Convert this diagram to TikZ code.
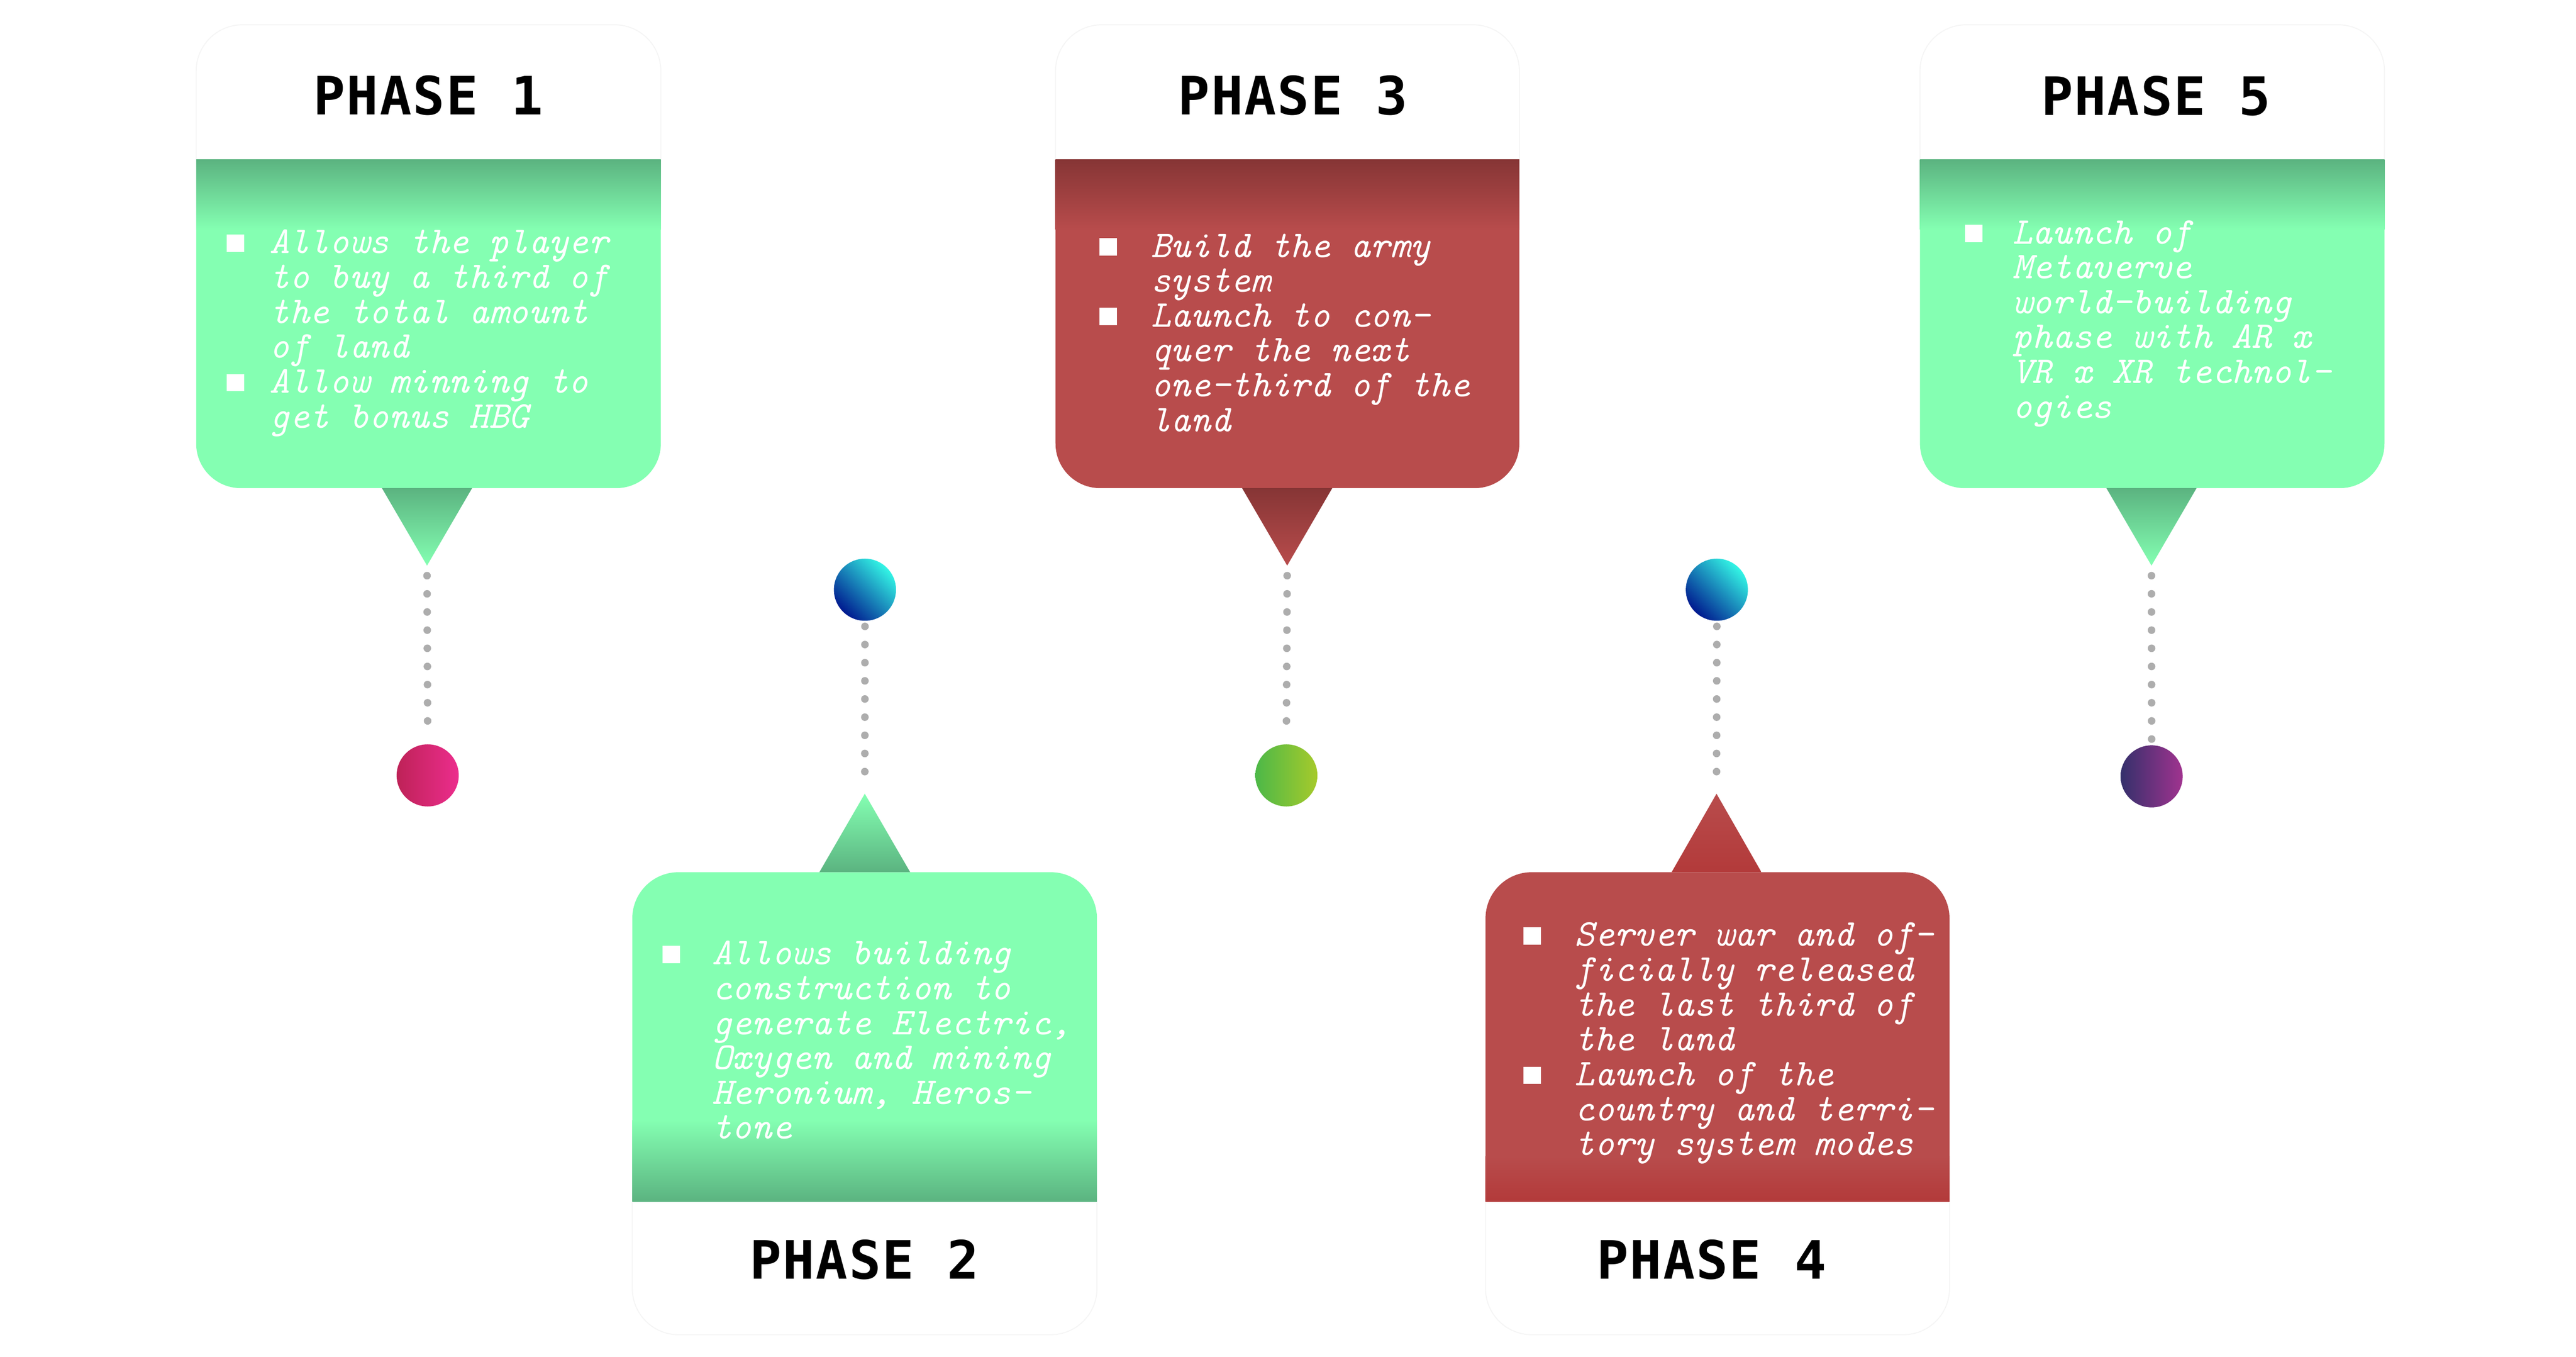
\documentclass[tikz,border=0pt]{standalone}
\usepackage{fontspec}
\newfontfamily\bodyfont{lmmono10-italic.otf}
\newfontfamily\titlefont{DejaVu Sans Mono}[LetterSpace=2.6]
\definecolor{mint}{HTML}{84FFB2}
\definecolor{mintdark}{HTML}{5BB380}
\definecolor{redc}{HTML}{B84C4C}
\definecolor{reddark}{HTML}{863535}
\definecolor{redlow}{HTML}{B33A3A}
\definecolor{dotgray}{HTML}{ADADAD}
\definecolor{pinkL}{HTML}{BE2257}
\definecolor{pinkR}{HTML}{EC2D8D}
\definecolor{cyanT}{HTML}{33F5E5}
\definecolor{blueM}{HTML}{1A6DB8}
\definecolor{navyB}{HTML}{001A8F}
\definecolor{grnL}{HTML}{4CB848}
\definecolor{grnR}{HTML}{A6CA2B}
\definecolor{purL}{HTML}{34306B}
\definecolor{purR}{HTML}{A0338F}
\newcommand\sqb[1]{\llap{\rule[1pt]{10.5pt}{10.5pt}\hspace{#1pt}}}
% top card: L R main dark
\newcommand\topcard[4]{%
  \path[hdr] (#1,-96.5) -- (#1,-43) arc[start angle=180,end angle=90,radius=28] -- ({#2-28},-15) arc[start angle=90,end angle=0,radius=28] -- (#2,-96.5);
  \fill[#3] (#1,-96.5) -- (#2,-96.5) -- (#2,-268.5) arc[start angle=0,end angle=-90,radius=27] -- ({#1+27},-295.5) arc[start angle=270,end angle=180,radius=27] -- cycle;
  \shade[top color=#4, bottom color=#3] (#1,-96.5) rectangle (#2,-139);
}
% bottom card: L R main dark striptop
\newcommand\botcard[5]{%
  \path[hdr] (#1,-727.5) -- (#1,-780) arc[start angle=180,end angle=270,radius=28] -- ({#2-28},-808) arc[start angle=270,end angle=360,radius=28] -- (#2,-727.5);
  \fill[#3] (#1,-727.5) -- (#1,-556) arc[start angle=180,end angle=90,radius=28] -- ({#2-28},-528) arc[start angle=90,end angle=0,radius=28] -- (#2,-727.5) -- cycle;
  \shade[top color=#3, bottom color=#4] (#1,-#5) rectangle (#2,-727.5);
}
\begin{document}
\begin{tikzpicture}[x=1pt,y=1pt,
  hdr/.style={fill=white, draw=black!4, line width=0.6pt},
  body/.style={text=white, inner sep=0pt, align=left, anchor=base west, font={\bodyfont\fontsize{23}{21.1}\selectfont}},
  ttl/.style={inner sep=0pt, anchor=base, text=black, font={\titlefont\bfseries\fontsize{32}{32}\selectfont}},
  dotline/.style={draw=dotgray, line width=4.6pt, line cap=round, dash pattern=on 0pt off 10.99pt},
  circ/.style={circle, minimum size=37.6pt, inner sep=0pt}
]
\fill[white] (0,0) rectangle (1560,-821.2);
\useasboundingbox (0,0) rectangle (1560,-821.2);

% cards
\topcard{118.8}{400.2}{mint}{mintdark}
\topcard{639.2}{920.1}{redc}{reddark}
\topcard{1162.7}{1444}{mint}{mintdark}
\botcard{382.9}{664.3}{mint}{mintdark}{678}
\botcard{899.6}{1180.6}{redc}{redlow}{700}

% pointer triangles
\coordinate (tip1) at (258.6,-342.4);
\coordinate (tip3) at (779.5,-342.4);
\coordinate (tip5) at (1302.9,-342.4);
\coordinate (tip2) at (523.7,-480.5);
\coordinate (tip4) at (1039.5,-480.5);
\shade[top color=mintdark, middle color=mint, bottom color=mint] (231.3,-295.5) -- (285.9,-295.5) -- (tip1) -- cycle;
\shade[top color=reddark, middle color=redc, bottom color=redc] (752.2,-295.5) -- (806.8,-295.5) -- (tip3) -- cycle;
\shade[top color=mintdark, middle color=mint, bottom color=mint] (1275.6,-295.5) -- (1330.2,-295.5) -- (tip5) -- cycle;
\shade[top color=mint, middle color=mint, bottom color=mintdark] (496.2,-528) -- (551.2,-528) -- (tip2) -- cycle;
\shade[top color=redc, middle color=redc, bottom color=redlow] (1012.3,-528) -- (1066.7,-528) -- (tip4) -- cycle;

% titles
\node[ttl] (h1) at (259.4,-69.5) {PHASE 1};
\node[ttl] (h3) at (783,-69.4) {PHASE 3};
\node[ttl] (h5) at (1305.7,-69.7) {PHASE 5};
\node[ttl] (h2) at (523.5,-774.2) {PHASE 2};
\node[ttl] (h4) at (1036.5,-774.2) {PHASE 4};

% texts (anchor = baseline of the last line)
\node[body] (t1) at (163.1,-259.0) {\sqb{15.4}Allows the player\\to buy a third of\\the total amount\\of land\\\sqb{15.4}Allow minning to\\get bonus HBG};
\node[body] (t2) at (431,-689.5) {\sqb{19.4}Allows building\\construction to\\generate Electric,\\Oxygen and mining\\Heronium, Heros-\\tone};
\node[body] (t3) at (696.8,-261.2) {\sqb{20.6}Build the army\\system\\\sqb{20.6}Launch to con-\\quer the next\\one-third of the\\land};
\node[body] (t4) at (953.4,-699.4) {\sqb{20.4}Server war and of-\\ficially released\\the last third of\\the land\\\sqb{20.4}Launch of the\\country and terri-\\tory system modes};
\node[body] (t5) at (1218.5,-253.1) {\sqb{18.1}Launch of\\Metaverve\\world-building\\phase with AR x\\VR x XR technol-\\ogies};

% circles
\node[circ, left color=pinkL, right color=pinkR] (c1) at (259,-469.4) {};
\node[circ, top color=cyanT, middle color=blueM, bottom color=navyB, shading angle=-45] (c2) at (523.8,-357) {};
\node[circ, left color=grnL, right color=grnR] (c3) at (779,-469.4) {};
\node[circ, top color=cyanT, middle color=blueM, bottom color=navyB, shading angle=-45] (c4) at (1039.7,-357) {};
\node[circ, left color=purL, right color=purR] (c5) at (1303,-470) {};

% dotted connectors
\draw[dotline] ([yshift=-6.1pt]tip1) -- ([yshift=3.1pt]c1.north);
\draw[dotline] ([yshift=-6.1pt]tip3) -- ([yshift=3.1pt]c3.north);
\draw[dotline] ([yshift=-6.1pt]tip5) -- ([yshift=3.1pt]c5.north);
\draw[dotline] ([yshift=-3.2pt]c2.south) -- ([yshift=2.5pt]tip2);
\draw[dotline] ([yshift=-3.2pt]c4.south) -- ([yshift=2.5pt]tip4);
\end{tikzpicture}
\end{document}
